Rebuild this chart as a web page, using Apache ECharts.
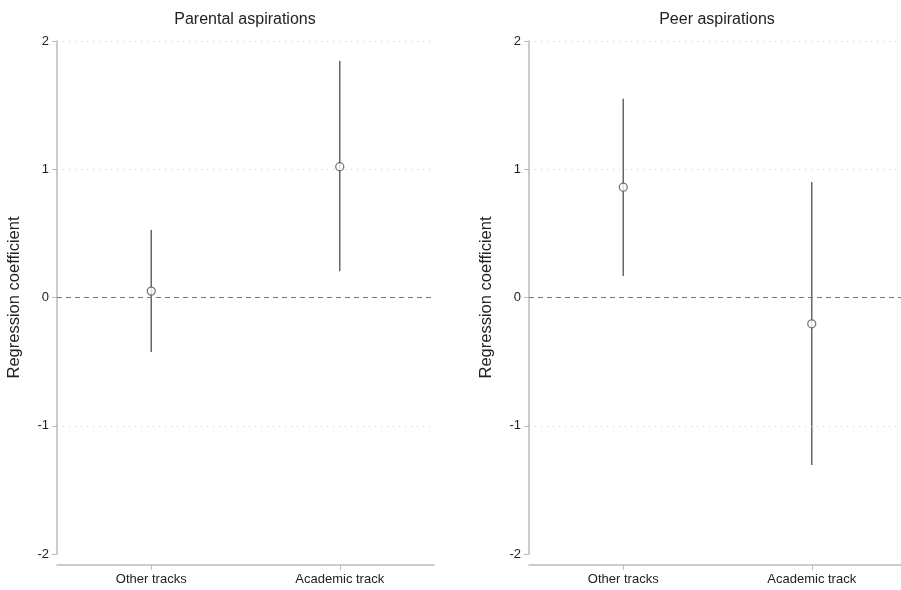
<!DOCTYPE html>
<html><head><meta charset="utf-8">
<script src="https://cdn.jsdelivr.net/npm/echarts@6/dist/echarts.min.js"></script>
<style>html,body{margin:0;padding:0;background:#fff;overflow:hidden}#c{width:910px;height:590px}</style>
</head><body><div id="c"></div>
<script>
const categories = ["Other tracks", "Academic track"];
const panelTitles = ["Parental aspirations", "Peer aspirations"];
const parentalEst = [0.05, 1.02];
const parentalLow = [-0.425, 0.205];
const parentalHigh = [0.526, 1.845];
const peerEst = [0.86, -0.205];
const peerLow = [0.168, -1.306];
const peerHigh = [1.55, 0.90];
const yTicks = [-2, -1, 0, 1, 2];
const gridValues = [2, 1, -1];

const panels = [
  {est: parentalEst, low: parentalLow, high: parentalHigh},
  {est: peerEst, low: peerLow, high: peerHigh}
];
const lefts = [57, 529];
const font = "Liberation Sans, Arial, sans-serif";
const chart = echarts.init(document.getElementById('c'));

const option = {
  animation: false,
  textStyle: {fontFamily: font},
  title: panelTitles.map((t, i) => ({
    text: t, left: lefts[i] + 183, top: 7, textAlign: 'center',
    textStyle: {fontSize: 16, fontWeight: 'normal', color: '#222', fontFamily: font}
  })),
  grid: lefts.map(l => ({left: l, width: 377, top: 41, bottom: 36})),
  xAxis: lefts.map((l, i) => ({
    type: 'category', gridIndex: i, data: categories, offset: 11,
    axisLine: {show: true, onZero: false, lineStyle: {color: '#bbb', width: 1.5}},
    axisTick: {show: true, alignWithLabel: true, length: 5, lineStyle: {color: '#bbb'}},
    axisLabel: {color: '#222', fontSize: 13, margin: 8, fontFamily: font},
    splitLine: {show: false}
  })),
  yAxis: lefts.map((l, i) => ({
    type: 'value', gridIndex: i, min: -2, max: 2, interval: 1,
    name: 'Regression coefficient', nameLocation: 'middle', nameGap: 34,
    nameTextStyle: {fontSize: 16.5, color: '#222', fontFamily: font},
    axisLine: {show: true, lineStyle: {color: '#bbb', width: 1.5}},
    axisTick: {show: true, length: 5, lineStyle: {color: '#bbb'}},
    axisLabel: {color: '#222', fontSize: 13, margin: 8, fontFamily: font,
      formatter: v => yTicks.includes(v) ? String(v) : ''},
    splitLine: {show: false}
  })),
  series: []
};

panels.forEach((p, i) => {
  option.series.push({
    type: 'custom', xAxisIndex: i, yAxisIndex: i,
    data: categories.map((c, k) => [k, p.low[k], p.high[k]]),
    renderItem: (params, api) => {
      const a = api.coord([api.value(0), api.value(1)]);
      const b = api.coord([api.value(0), api.value(2)]);
      return {type: 'line', shape: {x1: a[0], y1: a[1], x2: b[0], y2: b[1]},
        style: {stroke: '#666', lineWidth: 1.5}};
    },
    markLine: {
      silent: true, symbol: 'none', label: {show: false},
      data: gridValues.map(v => ({yAxis: v, lineStyle: {color: '#ccc', type: [1, 5], width: 1}}))
        .concat([{yAxis: 0, lineStyle: {color: '#777', type: [5, 4], width: 1}}])
    },
    z: 3
  });
  option.series.push({
    type: 'scatter', xAxisIndex: i, yAxisIndex: i,
    data: categories.map((c, k) => [k, p.est[k]]),
    symbol: 'circle', symbolSize: 8,
    itemStyle: {color: '#fff', borderColor: '#555', borderWidth: 1.3},
    z: 5
  });
});

chart.setOption(option);
</script></body></html>
